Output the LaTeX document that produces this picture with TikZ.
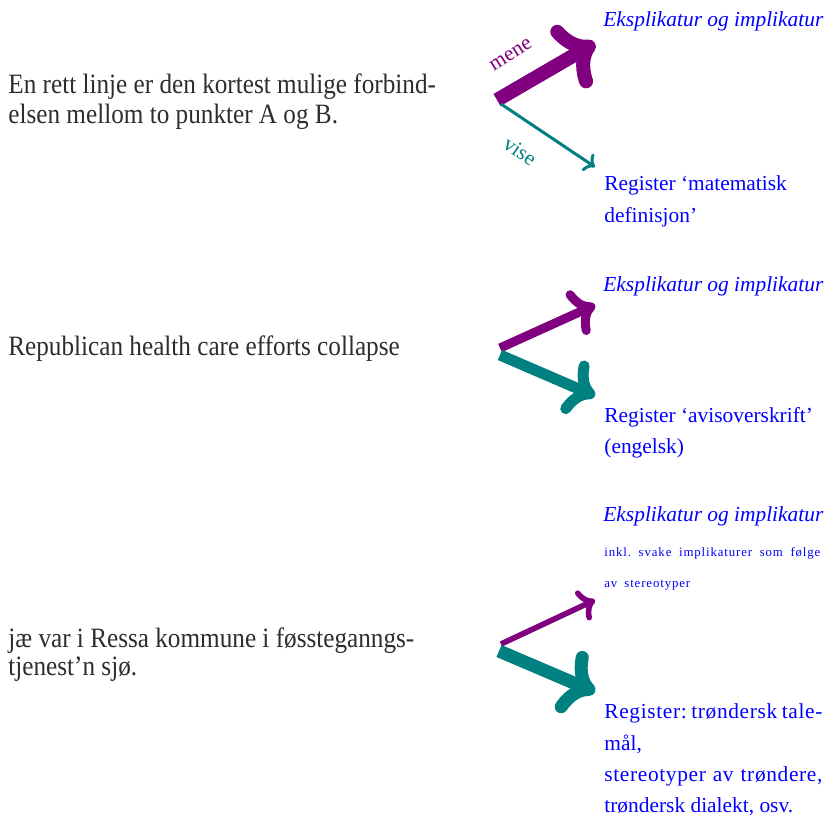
\documentclass[tikz,border=0pt]{standalone}
\usepackage{fontspec}
\setmainfont{Liberation Serif}
\newfontfamily\leftfont[FakeStretch=0.9]{Liberation Serif}
\newfontfamily\lsfont[LetterSpace=3]{Liberation Serif}
\newfontfamily\smallls[LetterSpace=7]{Liberation Serif}
\usetikzlibrary{arrows.meta}
\definecolor{mypurple}{RGB}{128,0,128}
\definecolor{myteal}{RGB}{0,128,128}
\definecolor{myblue}{RGB}{0,0,255}
\definecolor{leftgray}{RGB}{45,45,45}
\frenchspacing
\begin{document}
\begin{tikzpicture}[x=0.5pt,y=-0.5pt,
  lefttext/.style={anchor=base west,inner sep=0pt,text=leftgray,font=\leftfont\fontsize{14}{17}\selectfont},
  righttext/.style={anchor=base west,inner sep=0pt,text=myblue,font=\fontsize{10.7}{13}\selectfont},
  smalltext/.style={anchor=base west,inner sep=0pt,text=myblue,font=\smallls\fontsize{6.4}{8}\selectfont},
  arrlabel/.style={inner sep=0pt,font=\fontsize{10.7}{13}\selectfont},
  arr/.style={->,line cap=butt}
]
\useasboundingbox (0,0) rectangle (824,819);

% ---------- top ----------
\node[lefttext] (l1a) at (8,93) {En rett linje er den kortest mulige forbind-};
\node[lefttext] (l1b) at (8,123) {elsen mellom to punkter A og B.};
\node[righttext] (e1) at (603,26) {\itshape Eksplikatur og implikatur};
\node[righttext] (r1a) at (604,190) {Register ‘matematisk};
\node[righttext] (r1b) at (604,222) {definisjon’};
\coordinate (s1p) at (497,100);
\coordinate (t1p) at (595,43);
\coordinate (s1t) at (501,104);
\coordinate (t1t) at (595,167);
\draw[arr,draw=mypurple,line width=7pt] (s1p) -- (t1p);
\draw[arr,draw=myteal,line width=1.5pt] (s1t) -- (t1t);
\node[arrlabel,text=mypurple,rotate=32] (mene) at (511,55) {mene};
\node[arrlabel,text=myteal,rotate=-34] (vise) at (520,151) {vise};

% ---------- middle ----------
\node[lefttext] (l2) at (8,355) {Republican health care efforts collapse};
\node[righttext] (e2) at (603,291) {\itshape Eksplikatur og implikatur};
\node[righttext] (r2a) at (604,422) {Register ‘avisoverskrift’};
\node[righttext] (r2b) at (604,453) {(engelsk)};
\coordinate (s2p) at (500,348);
\coordinate (t2p) at (595,305);
\coordinate (s2t) at (500,355);
\coordinate (t2t) at (595,396);
\draw[arr,draw=mypurple,line width=4.5pt] (s2p) -- (t2p);
\draw[arr,draw=myteal,line width=5.5pt] (s2t) -- (t2t);

% ---------- bottom ----------
\node[lefttext] (l3a) at (8,647) {jæ var i Ressa kommune i føssteganngs-};
\node[lefttext] (l3b) at (8,675) {tjenest’n sjø.};
\node[righttext] (e3) at (603,521) {\itshape Eksplikatur og implikatur};
\node[smalltext] (k3a) at (604,556) {\makebox[108pt][s]{inkl. svake implikaturer som følge}};
\node[smalltext] (k3b) at (604,587) {av\hspace{3.5pt}stereotyper};
\node[righttext,font=\lsfont\fontsize{10.7}{13}\selectfont] (r3a) at (604,718) {\makebox[109pt][s]{Register: trøndersk tale-}};
\node[righttext] (r3b) at (604,750) {mål,};
\node[righttext,font=\lsfont\fontsize{10.7}{13}\selectfont] (r3c) at (604,781) {\makebox[109pt][s]{stereotyper av trøndere,}};
\node[righttext] (r3d) at (604,812) {trøndersk dialekt, osv.};
\coordinate (s3p) at (501,644);
\coordinate (t3p) at (595,600);
\coordinate (s3t) at (499,651);
\coordinate (t3t) at (595,692);
\draw[arr,draw=mypurple,line width=2.8pt] (s3p) -- (t3p);
\draw[arr,draw=myteal,line width=6.5pt] (s3t) -- (t3t);
\end{tikzpicture}
\end{document}
